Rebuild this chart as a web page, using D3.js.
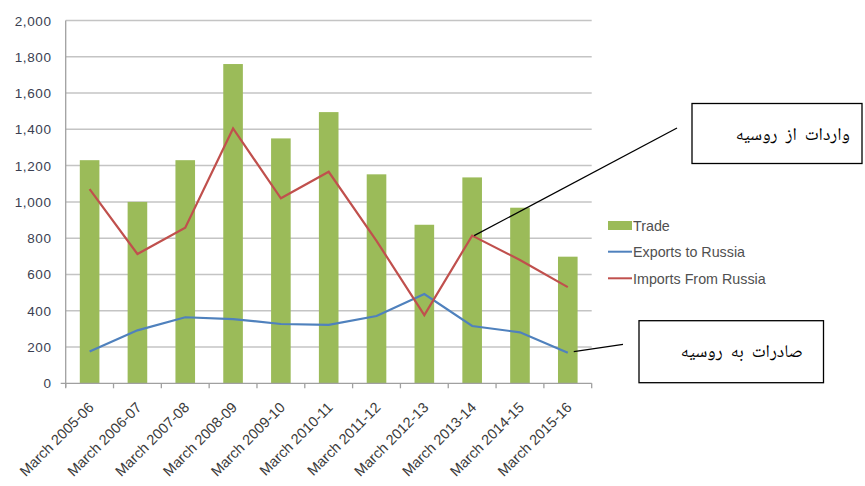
<!DOCTYPE html>
<meta charset="utf-8">
<head>
  <title>Trade with Russia</title>
  <script src="https://cdn.jsdelivr.net/npm/d3@7"></script>
  <style>
    body {margin: 0; background: #fff;}
    svg text {font-family: "Liberation Sans", Arial, sans-serif;}
    .fa {font-family: "Noto Naskh Arabic", "Noto Sans Arabic", "DejaVu Sans", sans-serif; word-spacing: 4px;}
  </style>
</head>
<body>
<div id="chart"></div>
<script>
// data
var years = ["March 2005-06", "March 2006-07", "March 2007-08", "March 2008-09", "March 2009-10",
             "March 2010-11", "March 2011-12", "March 2012-13", "March 2013-14", "March 2014-15", "March 2015-16"];
var tradeVals   = [1230, 1000, 1230, 1760, 1350, 1495, 1152, 874, 1135, 968, 698];
var exportVals  = [175, 292, 364, 354, 327, 322, 371, 492, 316, 281, 169];
var importVals  = [1070, 713, 858, 1405, 1020, 1166, 785, 376, 814, 680, 530];
var yTicks = [0, 200, 400, 600, 800, 1000, 1200, 1400, 1600, 1800, 2000];

var W = 865, H = 486;
var svg = d3.select("#chart").append("svg").attr("width", W).attr("height", H);

// plot area (don't call it "top", window.top is taken)
var plotL = 65.7, plotR = 591.7, plotT = 20.5, plotB = 383.3;

var x = d3.scaleBand().domain(years).range([plotL, plotR]).padding(0);
var y = d3.scaleLinear().domain([0, 2000]).range([plotB, plotT]);
var cx = function(d) { return x(d) + x.bandwidth() / 2; };

// gridlines
svg.append("g").selectAll("line")
   .data(yTicks.filter(function(d){ return d > 0; }))
   .enter().append("line")
   .attr("x1", plotL).attr("x2", plotR)
   .attr("y1", function(d){ return y(d); }).attr("y2", function(d){ return y(d); })
   .style("stroke", "#c4c4c4").style("stroke-width", 1.5);

// y labels
svg.append("g").selectAll("text")
   .data(yTicks).enter().append("text")
   .attr("x", 51.5).attr("y", function(d){ return y(d) + 5; })
   .attr("text-anchor", "end")
   .style("font-size", "13.5px").style("letter-spacing", "0.6px")
   .style("fill", "#3b3f52")
   .text(function(d){ return d3.format(",")(d); });

// bars
var barW = x.bandwidth() * 0.41;
svg.append("g").selectAll("rect")
   .data(years).enter().append("rect")
   .attr("x", function(d){ return cx(d) - barW / 2; })
   .attr("width", barW)
   .attr("y", function(d, i){ return y(tradeVals[i]); })
   .attr("height", function(d, i){ return plotB - y(tradeVals[i]); })
   .style("fill", "#9bbb59");

// axes lines
svg.append("line").attr("x1", plotL).attr("x2", plotL).attr("y1", plotT).attr("y2", plotB + 4)
   .style("stroke", "#a0a0a0").style("stroke-width", 1.3);
svg.append("line").attr("x1", plotL - 5).attr("x2", plotR).attr("y1", plotB).attr("y2", plotB)
   .style("stroke", "#a0a0a0").style("stroke-width", 1.3);
svg.append("g").selectAll("line")
   .data(years.concat(["end"])).enter().append("line")
   .attr("x1", function(d, i){ return plotL + i * x.step(); })
   .attr("x2", function(d, i){ return plotL + i * x.step(); })
   .attr("y1", plotB).attr("y2", plotB + 5)
   .style("stroke", "#a0a0a0").style("stroke-width", 1.3);

// lines
var lineGen = function(vals) {
  return d3.line().x(function(d){ return cx(d); }).y(function(d, i){ return y(vals[i]); })(years);
};
svg.append("path").attr("d", lineGen(exportVals))
   .style("fill", "none").style("stroke", "#4f81bd").style("stroke-width", 2.2);
svg.append("path").attr("d", lineGen(importVals))
   .style("fill", "none").style("stroke", "#c0504d").style("stroke-width", 2.2);

// x labels
svg.append("g").selectAll("text")
   .data(years).enter().append("text")
   .attr("transform", function(d){ return "translate(" + (cx(d) + 5) + "," + (plotB + 25) + ") rotate(-45)"; })
   .attr("text-anchor", "end")
   .style("font-size", "14.5px")
   .style("fill", "#3b3b3b")
   .text(function(d){ return d; });

// legend
var legend = svg.append("g").attr("transform", "translate(608,0)");
legend.append("rect").attr("x", 0).attr("y", 221).attr("width", 24).attr("height", 9).style("fill", "#9bbb59");
legend.append("line").attr("x1", 0).attr("x2", 24).attr("y1", 251.7).attr("y2", 251.7)
      .style("stroke", "#4f81bd").style("stroke-width", 2);
legend.append("line").attr("x1", 0).attr("x2", 24).attr("y1", 278.3).attr("y2", 278.3)
      .style("stroke", "#c0504d").style("stroke-width", 2);
legend.selectAll("text.leg")
      .data(["Trade", "Exports to Russia", "Imports From Russia"])
      .enter().append("text")
      .attr("class", "leg")
      .attr("x", 25)
      .attr("y", function(d, i){ return [230.5, 257, 283.5][i]; })
      .style("font-size", "14.3px").style("fill", "#505050")
      .text(function(d){ return d; });

// annotations
var iIdx = years.indexOf("March 2013-14");
var eIdx = years.indexOf("March 2015-16");
svg.append("line")
   .attr("x1", cx(years[iIdx]) + 2).attr("y1", y(importVals[iIdx]))
   .attr("x2", 677).attr("y2", 128)
   .style("stroke", "#000").style("stroke-width", 1.3);
svg.append("line")
   .attr("x1", cx(years[eIdx]) + 6).attr("y1", y(exportVals[eIdx]) - 1)
   .attr("x2", 623).attr("y2", 344.3)
   .style("stroke", "#000").style("stroke-width", 1.3);

svg.append("rect").attr("x", 692).attr("y", 103.5).attr("width", 170).attr("height", 60)
   .style("fill", "#fff").style("stroke", "#000").style("stroke-width", 1.3);
svg.append("text").attr("class", "fa").attr("x", 850).attr("y", 140).attr("text-anchor", "end")
   .style("font-size", "18px").style("fill", "#000")
   .text("واردات از روسیه");

svg.append("rect").attr("x", 639).attr("y", 320.7).attr("width", 184.5).attr("height", 62)
   .style("fill", "#fff").style("stroke", "#000").style("stroke-width", 1.3);
svg.append("text").attr("class", "fa").attr("x", 803).attr("y", 357).attr("text-anchor", "end")
   .style("font-size", "18px").style("fill", "#000")
   .text("صادرات به روسیه");
</script>
</body>
</html>
